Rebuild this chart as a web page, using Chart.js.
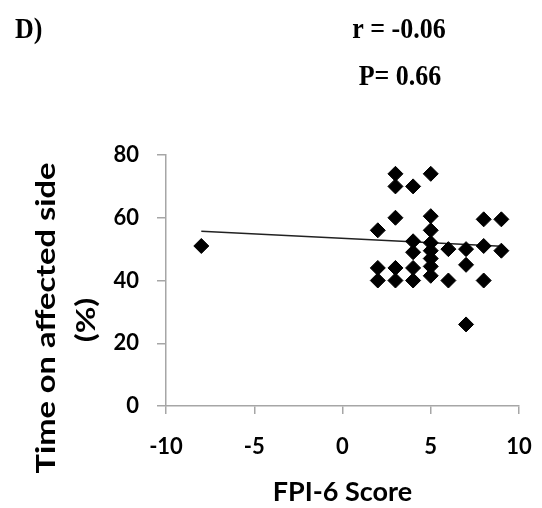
<!DOCTYPE html>
<html>
<head>
<meta charset="utf-8">
<script src="https://cdn.jsdelivr.net/npm/chart.js@4"></script>
<style>
  html, body { margin: 0; padding: 0; background: #ffffff; }
  #wrap { width: 542px; height: 508px; position: relative; }
</style>
</head>
<body>
<div id="wrap"><canvas id="c" width="542" height="508"></canvas></div>
<script>
// FPI-6 score vs time on affected side (%)
const fpiScores = [-8, 2, 2, 2, 3, 3, 3, 3, 3, 4, 4, 4, 4, 4, 5, 5, 5, 5, 5, 5, 5, 5, 6, 6, 7, 7, 7, 8, 8, 8, 9, 9];
const timeAffected = [51, 56, 44, 40, 74, 70, 60, 44, 40, 70, 52.5, 49, 44, 40, 74, 60.5, 56, 52, 49.5, 47, 44.5, 41.5, 50, 40, 50, 45, 26, 59.5, 51, 40, 59.5, 49.5];
const trendX = [-8, 9];
const trendY = [55.7, 50.9];
const xTicks = [-10, -5, 0, 5, 10];
const yTicks = [0, 20, 40, 60, 80];
const panelLabel = "D)";
const statR = "r = -0.06";
const statP = "P= 0.66";
const yTitleMain = "Time on affected side";
const yTitleUnit = "(%)";
const xTitle = "FPI-6 Score";

const scatterPoints = fpiScores.map((x, i) => ({ x: x, y: timeAffected[i] }));
const trendPoints = trendX.map((x, i) => ({ x: x, y: trendY[i] }));

function stretchedText(ctx, text, x, y, sx, sy, rot) {
  ctx.save();
  ctx.translate(x, y);
  if (rot) ctx.rotate(rot);
  ctx.scale(sx, sy);
  ctx.fillText(text, 0, 0);
  ctx.restore();
}

const annot = {
  id: 'annot',
  afterDraw(chart) {
    const ctx = chart.ctx;
    ctx.save();
    ctx.fillStyle = '#000';
    ctx.textBaseline = 'middle';
    ctx.font = 'bold 26px "Liberation Serif", "Times New Roman", serif';
    ctx.textAlign = 'left';
    stretchedText(ctx, panelLabel, 15, 30, 1, 1.15, 0);
    ctx.textAlign = 'center';
    stretchedText(ctx, statR, 399, 30, 1, 1.15, 0);
    stretchedText(ctx, statP, 400, 77, 1, 1.15, 0);

    // y-axis title (rotated, stretched along its length like the source)
    ctx.font = 'bold 26px Lato, sans-serif';
    const w = ctx.measureText(yTitleMain).width;
    const targetLen = 311;
    const sx = targetLen / w;
    stretchedText(ctx, yTitleMain, 47, 318, sx, 1, -Math.PI / 2);
    stretchedText(ctx, yTitleUnit, 87, 320, sx, 1, -Math.PI / 2);
    ctx.restore();
  }
};

const axisGray = '#a6a6a6';
const tickFont = { family: 'Lato', weight: 'bold', size: 22 };

new Chart(document.getElementById('c'), {
  type: 'scatter',
  data: {
    datasets: [
      {
        type: 'scatter',
        data: scatterPoints,
        pointStyle: 'rectRot',
        pointRadius: 7.5,
        pointHoverRadius: 7.5,
        backgroundColor: '#000',
        borderColor: '#000',
        borderWidth: 1,
        order: 1
      },
      {
        type: 'line',
        data: trendPoints,
        borderColor: '#222',
        borderWidth: 1.5,
        pointRadius: 0,
        fill: false,
        order: 2
      }
    ]
  },
  options: {
    responsive: false,
    animation: false,
    devicePixelRatio: 1,
    layout: { autoPadding: false, padding: { top: 155, right: 23, left: 0, bottom: 0 } },
    plugins: { legend: { display: false }, tooltip: { enabled: false } },
    scales: {
      x: {
        type: 'linear',
        min: -10, max: 10,
        afterBuildTicks: (s) => { s.ticks = xTicks.map(v => ({ value: v })); },
        afterFit: (s) => { s.height = 102; s.paddingLeft = 0; s.paddingRight = 0; },
        border: { color: axisGray, width: 1.5 },
        grid: { drawOnChartArea: false, drawTicks: true, tickLength: 8, color: axisGray, lineWidth: 1.5 },
        ticks: { color: '#000', font: tickFont, padding: 20, maxRotation: 0 },
        title: {
          display: true,
          text: xTitle,
          color: '#000',
          font: { family: 'Lato', weight: 'bold', size: 27 },
          padding: { top: 0, bottom: 0 }
        }
      },
      y: {
        type: 'linear',
        min: 0, max: 80,
        afterBuildTicks: (s) => { s.ticks = yTicks.map(v => ({ value: v })); },
        afterFit: (s) => { s.width = 166; },
        border: { color: axisGray, width: 1.5 },
        grid: { drawOnChartArea: false, drawTicks: true, tickLength: 9, color: axisGray, lineWidth: 1.5 },
        ticks: { color: '#000', font: tickFont, padding: 18 },
        title: { display: false }
      }
    }
  },
  plugins: [annot]
});
</script>
</body>
</html>
